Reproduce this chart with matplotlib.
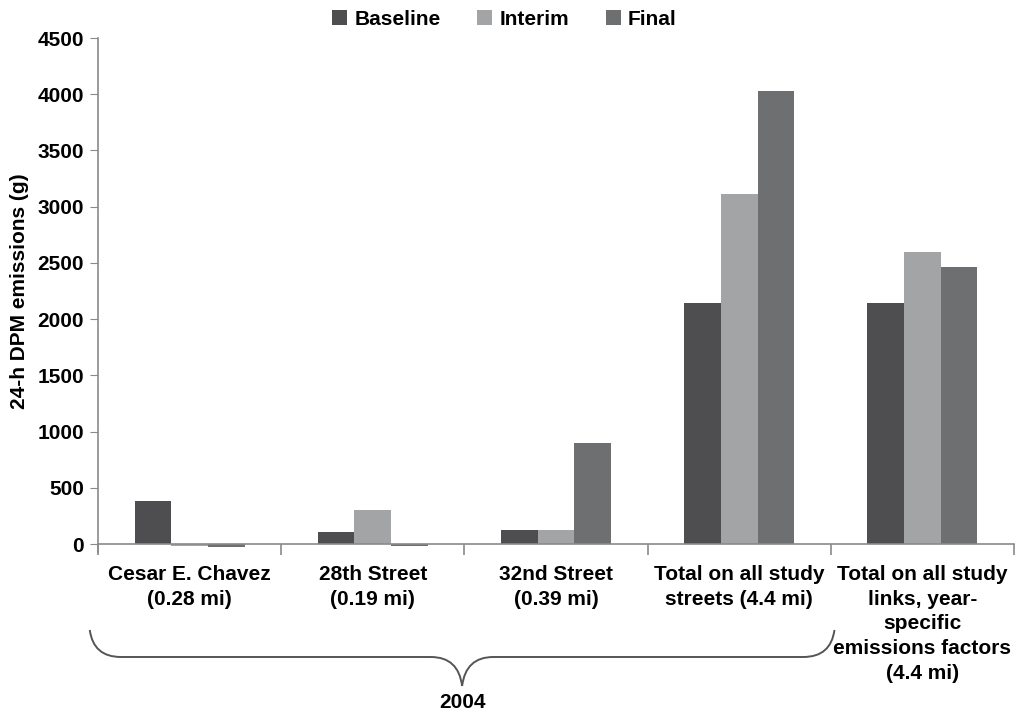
import matplotlib.pyplot as plt
import numpy as np
from matplotlib.path import Path
from matplotlib.patches import PathPatch
from matplotlib import transforms

plt.rcParams['font.family'] = ['Liberation Sans', 'DejaVu Sans']
plt.rcParams['font.weight'] = 'bold'
plt.rcParams['axes.labelweight'] = 'bold'

labels = ['Cesar E. Chavez\n(0.28 mi)', '28th Street\n(0.19 mi)', '32nd Street\n(0.39 mi)',
          'Total on all study\nstreets (4.4 mi)',
          'Total on all study\nlinks, year-\nspecific\nemissions factors\n(4.4 mi)']
baseline = [385, 110, 125, 2140, 2140]
interim = [-22, 305, 125, 3110, 2595]
final = [-25, -22, 895, 4030, 2460]

colors = ['#4e4e50', '#a3a4a6', '#6e6f71']
axis_grey = '#8a8a8a'
fs = 15

fig = plt.figure(figsize=(10.15, 7.15), dpi=100)
ax = fig.add_axes([98 / 1015, 1 - 544 / 715, 1 - 98 / 1015 - 0.001, (544 - 38) / 715])

x = np.arange(len(labels))
width = 0.2
ax.bar(x - width, baseline, width, color=colors[0], label='Baseline', clip_on=False)
ax.bar(x, interim, width, color=colors[1], label='Interim', clip_on=False)
ax.bar(x + width, final, width, color=colors[2], label='Final', clip_on=False)

ax.set_xlim(-0.5, len(labels) - 0.5)
ax.set_ylim(0, 4500)
ax.set_yticks(np.arange(0, 4501, 500))
ax.tick_params(axis='y', labelsize=fs, length=6, color=axis_grey, pad=4)

# ticks at category boundaries, labels centred
ax.set_xticks(np.arange(-0.5, len(labels), 1.0))
ax.set_xticklabels([])
ax.set_xticks(x, minor=True)
ax.set_xticklabels(labels, minor=True, fontsize=fs, linespacing=1.38, va='top')
ax.tick_params(axis='x', which='major', length=8, color=axis_grey, width=1.2)
ax.tick_params(axis='x', which='minor', length=0, pad=15)

for s in ['top', 'right']:
    ax.spines[s].set_visible(False)
for s in ['left', 'bottom']:
    ax.spines[s].set_color(axis_grey)
    ax.spines[s].set_linewidth(1.2)
ax.plot([0, 0], [0, -0.016], transform=ax.transAxes, color=axis_grey, lw=1.2, clip_on=False)

ax.set_ylabel('24-h DPM emissions (g)', fontsize=fs, labelpad=6)

ax.legend(loc='upper center', bbox_to_anchor=(0.497, 1.012), bbox_transform=fig.transFigure,
          ncol=3, frameon=False, fontsize=fs, handlelength=0.72, handleheight=0.72,
          columnspacing=1.75, handletextpad=0.35)

# curly brace under the 2004 groups
tr = transforms.blended_transform_factory(ax.transData, fig.transFigure)
x0, x1 = -0.545, 3.52
xc = (x0 + x1) / 2
yt, ym, yb = 1 - 630 / 715, 1 - 657 / 715, 1 - 686 / 715
dx = 0.17
left = Path([(x0, yt), (x0 + 0.02, ym), (x0 + dx, ym), (xc - dx, ym), (xc - 0.02, ym), (xc, yb)],
            [Path.MOVETO, Path.CURVE3, Path.CURVE3, Path.LINETO, Path.CURVE3, Path.CURVE3])
right = Path([(x1, yt), (x1 - 0.02, ym), (x1 - dx, ym), (xc + dx, ym), (xc + 0.02, ym), (xc, yb)],
             [Path.MOVETO, Path.CURVE3, Path.CURVE3, Path.LINETO, Path.CURVE3, Path.CURVE3])
for p in (left, right):
    fig.add_artist(PathPatch(p, transform=tr, fill=False, edgecolor='#555555', lw=1.4, clip_on=False))

fig.text(xc, 1 - 703 / 715, '2004', transform=tr, ha='center', va='center', fontsize=fs)

fig.savefig('out.png', dpi=100)
